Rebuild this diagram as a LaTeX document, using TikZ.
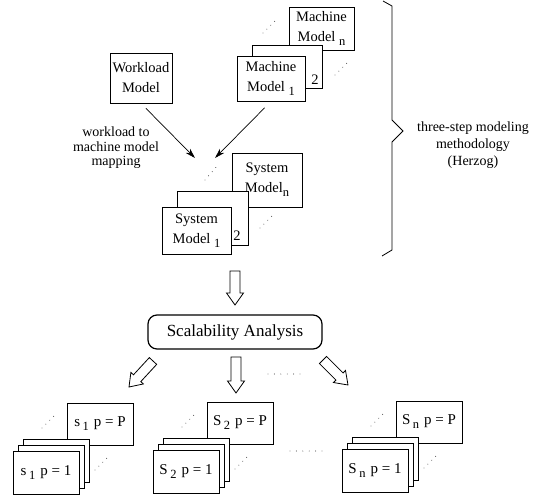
\documentclass[tikz,border=0pt]{standalone}
\usepackage{fontspec}
\setmainfont{Liberation Serif}
\usetikzlibrary{calc,arrows.meta}
\newcommand\lowsub[1]{\raisebox{-4pt}{\fontsize{12.5}{12.5}\selectfont #1}}
\newcommand\harrow[2]{%
  \coordinate (hh) at ($(#2)!12pt!(#1)$);
  \draw[line width=0.8pt, fill=white, line join=miter]
    ($(#1)!5pt!90:(#2)$) -- ($(hh)!5pt!90:(#2)$) -- ($(hh)!8.5pt!90:(#2)$) -- (#2)
    -- ($(hh)!8.5pt!-90:(#2)$) -- ($(hh)!5pt!-90:(#2)$) -- ($(#1)!5pt!-90:(#2)$) -- cycle;}
\newcommand\bstack[4]{%
  \node[sbox, minimum width=66pt, minimum height=42pt] (#1b) at (#2+87,#3-27) {#4\hspace{5pt}p = P};
  \node[sbox, minimum width=66pt, minimum height=43pt] (#1c) at (#2+43,#3+9.5) {};
  \node[sbox, minimum width=66pt, minimum height=43pt] (#1d) at (#2+38,#3+15.5) {};
  \node[sbox, minimum width=66pt, minimum height=43pt] (#1f) at (#2+33,#3+21.5) {#4\hspace{5pt}p = 1};
  \draw[dots] (#2+29,#3-23) -- (#2+42,#3-36);
  \draw[dots] (#2+82,#3+19) -- (#2+95,#3+6);}
\begin{document}
\begin{tikzpicture}[x=1pt,y=-1pt,
  box/.style={draw,fill=white,line width=0.7pt,inner sep=0pt,align=center,font=\fontsize{14.5}{20}\selectfont},
  sbox/.style={draw,fill=white,line width=0.7pt,inner sep=0pt,align=center,font=\fontsize{15}{18}\selectfont},
  plain/.style={inner sep=0pt,align=center,font=\fontsize{14.5}{20}\selectfont},
  dots/.style={line width=0.9pt,dash pattern=on 0pt off 5.5pt,line cap=round},
  hdots/.style={line width=0.9pt,dash pattern=on 0pt off 6.4pt,line cap=round},
  conn/.style={line width=0.7pt,-{Stealth[length=10pt,width=6pt,inset=3pt]}}]
\useasboundingbox (0,0) rectangle (541,495);
% machine model stack
\node[box,minimum width=65pt,minimum height=43pt] (mn) at (321.5,28.5) {Machine\\Model \lowsub{n}};
\node[box,minimum width=70pt,minimum height=43pt] (m2) at (287,66.5) {};
\node[plain] (m2l) at (315,80) {2};
\node[box,minimum width=68pt,minimum height=45pt] (m1) at (271,78.5) {Machine\\Model \lowsub{1}};
\draw[dots] (263,33) -- (278,18);
\draw[dots] (335,75) -- (348,62);
% workload
\node[box,minimum width=62pt,minimum height=50pt] (wl) at (141,78) {Workload\\Model};
\node[inner sep=0pt,align=center,font=\fontsize{14}{14.5}\selectfont] (lbl) at (116,148) {workload to\\machine model\\mapping};
\coordinate (t1) at (195,158);
\coordinate (t2) at (215,158);
\draw[conn,shorten <=7pt] (wl.south) -- (t1);
\draw[conn,shorten <=9pt] (m1.south) -- (t2);
% system model stack
\node[box,minimum width=70pt,minimum height=54pt] (sn) at (267,180) {System\\Model\lowsub{n}};
\node[box,minimum width=71pt,minimum height=54pt] (s2) at (212.5,218) {};
\node[plain] (s2l) at (237,236) {2};
\node[box,minimum width=69pt,minimum height=47pt] (s1) at (196.5,230.5) {System\\Model \lowsub{1}};
\draw[dots] (205,180) -- (218,165);
\draw[dots] (260,228) -- (273,215);
% brace
\draw[line width=0.8pt,line join=miter] (383,1) -- (392,6) -- (392,120) -- (403,131) -- (392,142) -- (392,250) -- (382,256);
\node[inner sep=0pt,align=center,font=\fontsize{14}{17}\selectfont] (br) at (473,145) {three-step modeling\\methodology\\(Herzog)};
% arrow to analysis
\coordinate (a0) at (235,271);
\coordinate (a1) at (235,305);
\harrow{a0}{a1}
\node[draw,rounded corners=9pt,line width=1.2pt,minimum width=174pt,minimum height=34pt,inner sep=0pt,font=\fontsize{17}{20}\selectfont] (sa) at (235,332) {Scalability Analysis};
\coordinate (l0) at (153,361);
\coordinate (l1) at (129,387);
\coordinate (c0) at (236,357);
\coordinate (c1) at (236,393);
\coordinate (r0) at (323,360);
\coordinate (r1) at (348,385);
\harrow{l0}{l1}
\harrow{c0}{c1}
\harrow{r0}{r1}
\draw[hdots] (268,374) -- (300,374);
\draw[hdots] (290,451) -- (322,451);
% bottom stacks
\bstack{a}{13}{451}{s\,\lowsub{1}}
\bstack{b}{153}{450}{S\,\lowsub{2}}
\bstack{c}{342}{449}{S\,\lowsub{n}}
\end{tikzpicture}
\end{document}
